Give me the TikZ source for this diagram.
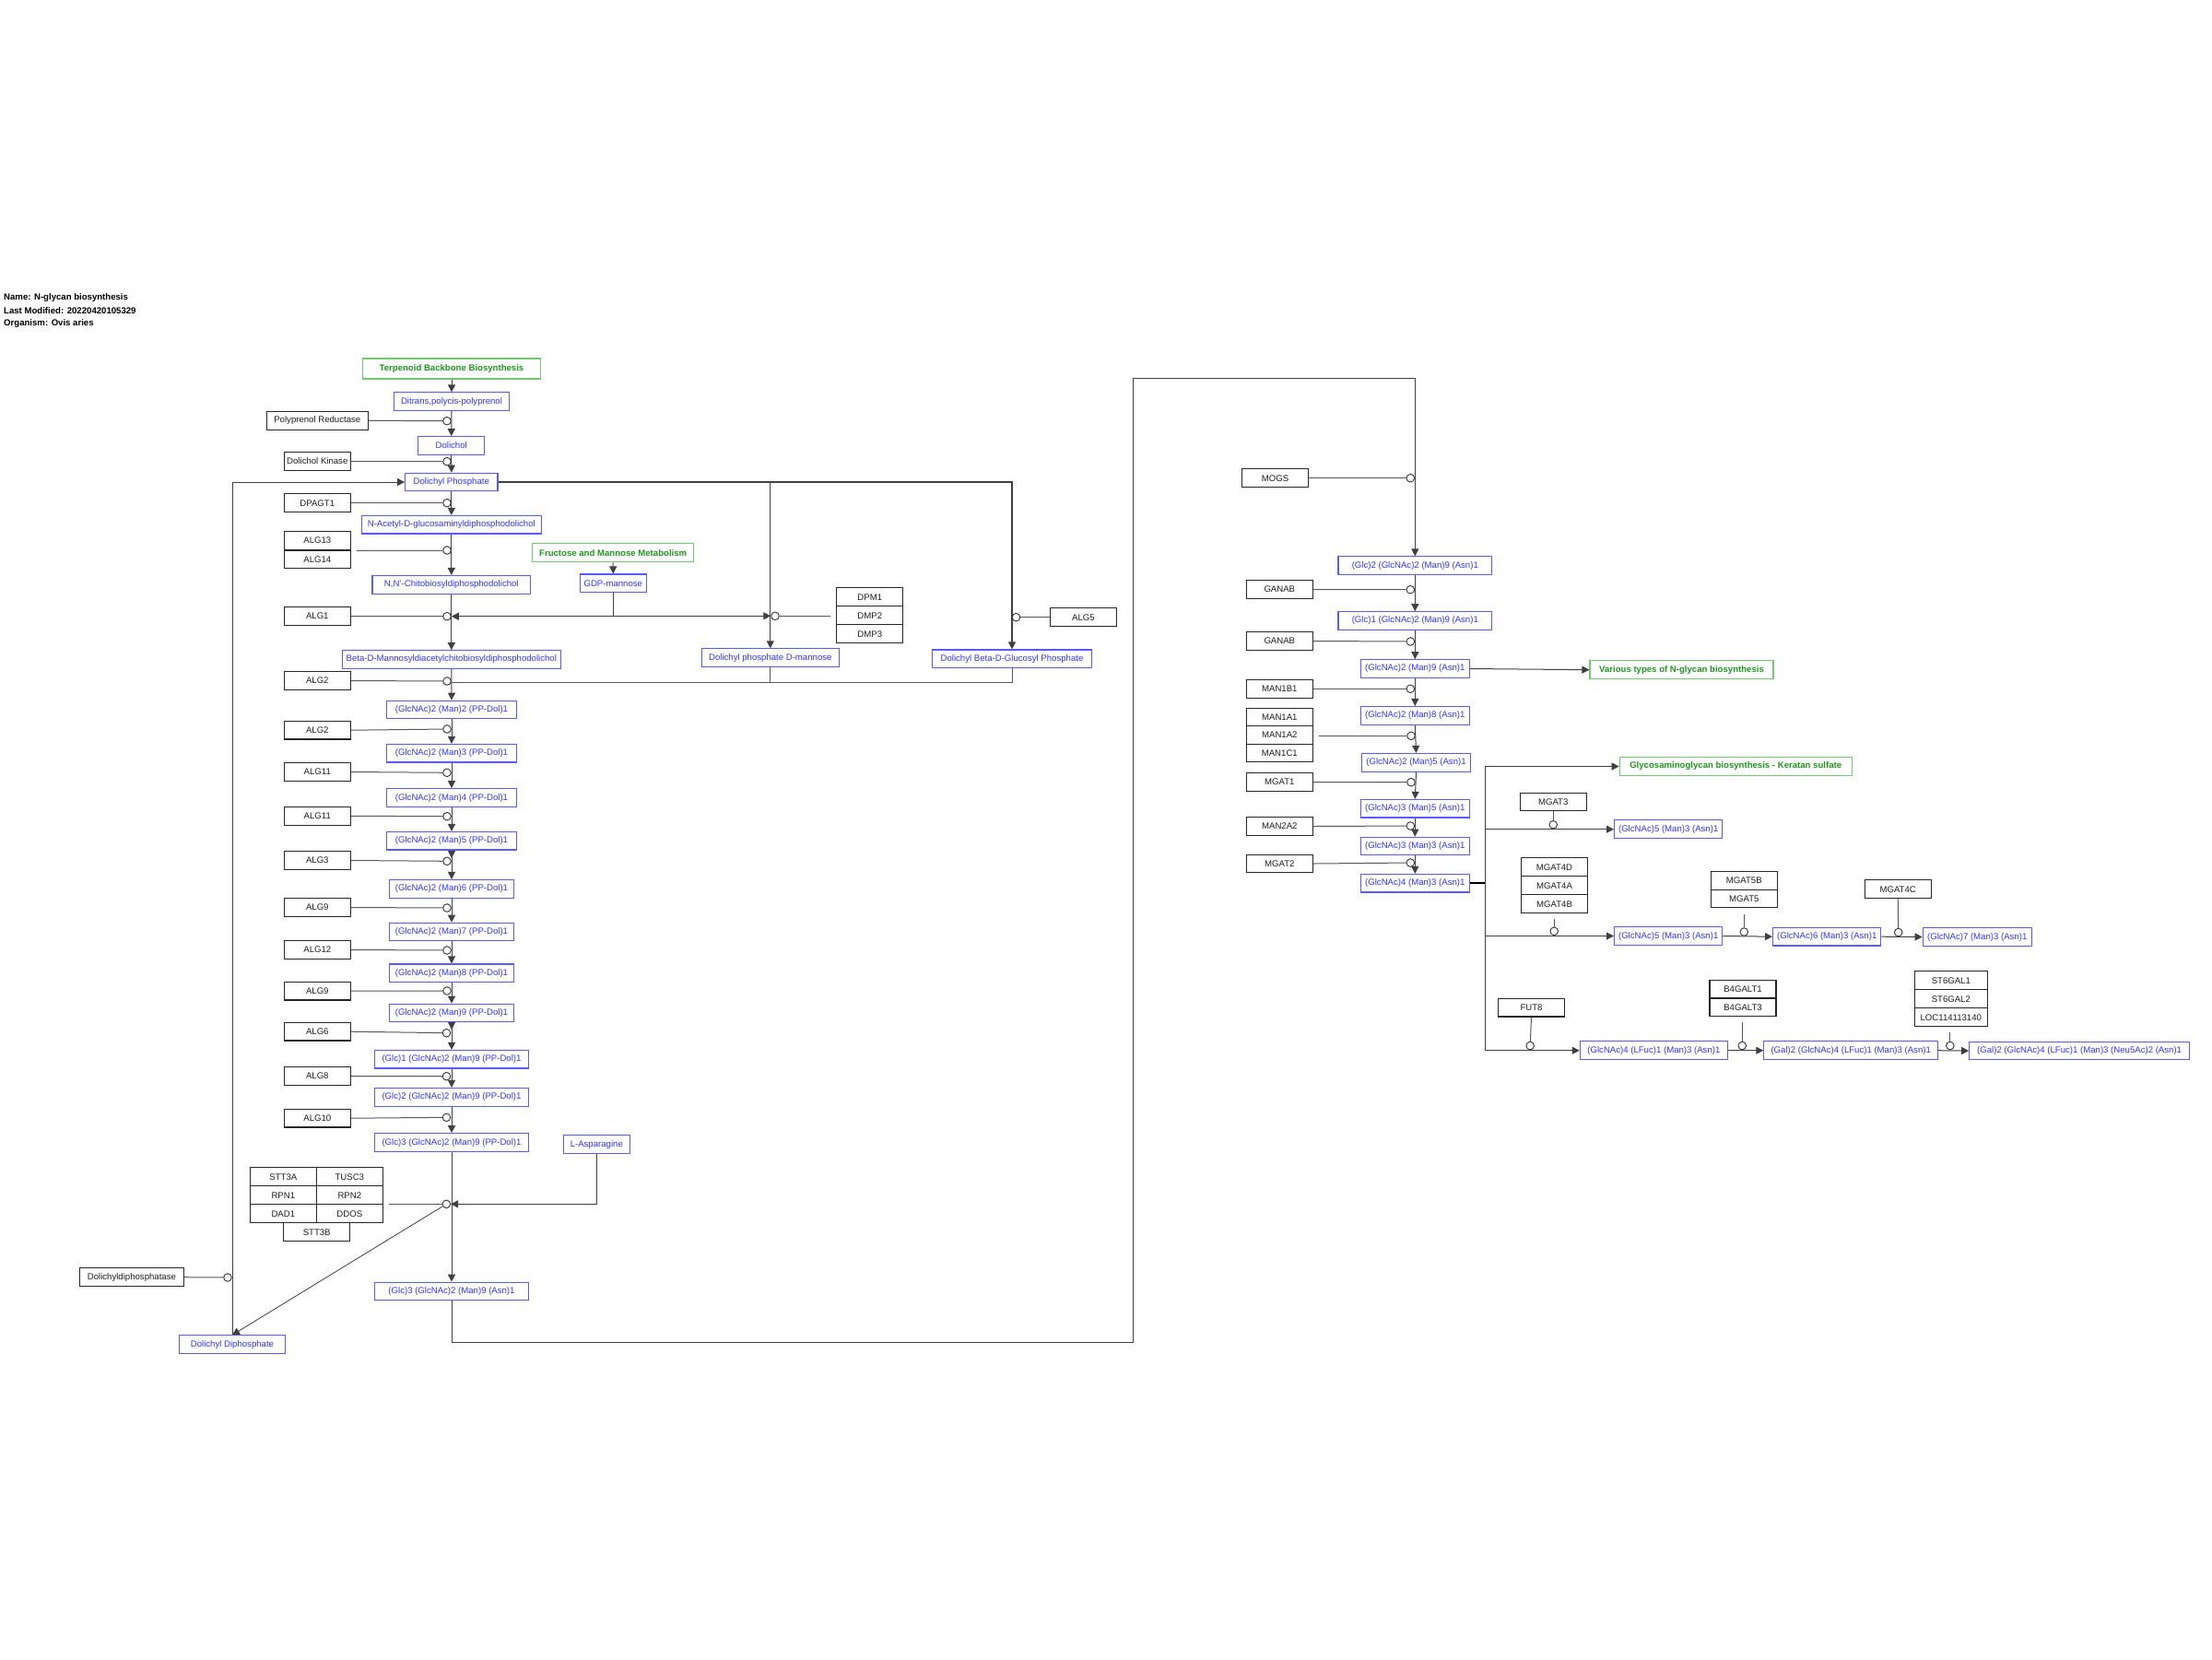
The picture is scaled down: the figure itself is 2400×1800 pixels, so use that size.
\documentclass[tikz,border=0pt]{standalone}
\usepackage{fontspec}
\setmainfont{Liberation Sans}
\usetikzlibrary{arrows.meta}
\pgfdeclarelayer{bg}
\pgfsetlayers{bg,main}
\definecolor{mblue}{RGB}{51,51,255}
\definecolor{mborder}{RGB}{90,90,255}
\definecolor{pgreen}{RGB}{34,150,34}
\definecolor{pborder}{RGB}{115,200,115}
\definecolor{gtext}{RGB}{30,30,30}
\begin{document}
\begin{tikzpicture}[x=1pt,y=-1pt,
  every node/.style={font=\fontsize{9.6}{11}\selectfont},
  gene/.style={draw=black!85, line width=1.1pt, fill=white, text=gtext, inner sep=0pt, minimum width=72pt, minimum height=19.6pt},
  metab/.style={draw=mborder, line width=1.1pt, fill=white, text=mblue, inner sep=0pt, minimum width=#1, minimum height=19.6pt},
  metab/.default=72pt,
  pway/.style={draw=pborder, line width=1.1pt, fill=white, text=pgreen, inner sep=0pt, minimum width=#1, minimum height=19.8pt, font=\fontsize{9.6}{11}\selectfont\bfseries},
  pway/.default=175pt,
  cat/.style={circle, draw=black!80, line width=0.9pt, fill=white, minimum size=8.6pt, inner sep=0pt},
  conv/.style={draw=black!75, line width=1pt, -{Triangle[length=8pt,width=8pt]}},
  cl/.style={draw=black!65, line width=1pt},
  hdr/.style={anchor=west, inner sep=0pt, font=\fontsize{9.6}{11}\selectfont\bfseries}
]
\useasboundingbox (0,0) rectangle (2400,1800);

% header
\node[hdr] (h1) at (4,323) {Name: N-glycan biosynthesis};
\node[hdr] (h2) at (4,337) {Last Modified: 20220420105329};
\node[hdr] (h3) at (4,351) {Organism: Ovis aries};

% ---------- left column ----------
\node[pway=193pt, minimum height=22pt] (p_terp) at (490,400) {Terpenoid Backbone Biosynthesis};
\node[metab=125pt] (m_ditrans) at (490,435.7) {Ditrans,polycis-polyprenol};
\node[gene, minimum width=110pt] (g_polyred) at (344.3,456.3) {Polyprenol Reductase};
\node[cat] (c1) at (485,456.7) {};
\node[metab=72pt] (m_dolichol) at (489.7,483.5) {Dolichol};
\node[gene] (g_dolk) at (344.3,500.5) {Dolichol Kinase};
\node[cat] (c2) at (485,500.7) {};
\node[metab=100.3pt] (m_dolp) at (489.8,523) {Dolichyl Phosphate};
\node[gene] (g_dpagt1) at (344.3,545.7) {DPAGT1};
\node[cat] (c3) at (485,545.7) {};
\node[metab=195pt] (m_nacetyl) at (489.8,569.2) {N-Acetyl-D-glucosaminyldiphosphodolichol};
\node[gene] (g_alg13) at (344.3,586.5) {ALG13};
\node[gene] (g_alg14) at (344.3,607) {ALG14};
\coordinate (j_alg1314) at (387,597);
\node[cat] (c4) at (485,597) {};
\node[pway=175pt] (p_fruc) at (665.2,599.8) {Fructose and Mannose Metabolism};
\node[metab=72pt] (m_gdp) at (665.3,632.8) {GDP-mannose};
\node[metab=171.7pt] (m_chito) at (489.8,634.3) {N,N'-Chitobiosyldiphosphodolichol};
\node[gene] (g_alg1) at (344.3,668.5) {ALG1};
\node[cat] (c5) at (485,668.7) {};
\node[metab=237pt] (m_beta) at (489.8,715.5) {Beta-D-Mannosyldiacetylchitobiosyldiphosphodolichol};
\node[gene] (g_alg2a) at (344.3,738.5) {ALG2};
\node[cat] (c6) at (485,739) {};
\coordinate (j_ret) at (490,740.5);
\node[metab=141.3pt] (m_man2) at (490,770) {(GlcNAc)2 (Man)2 (PP-Dol)1};
\node[gene] (g_alg2b) at (344.3,792.2) {ALG2};
\node[cat] (c7) at (485,791) {};
\node[metab=141.3pt] (m_man3) at (490,817.2) {(GlcNAc)2 (Man)3 (PP-Dol)1};
\node[gene] (g_alg11a) at (344.3,837.5) {ALG11};
\node[cat] (c8) at (485,838.3) {};
\node[metab=141.3pt] (m_man4) at (490,865.5) {(GlcNAc)2 (Man)4 (PP-Dol)1};
\node[gene] (g_alg11b) at (344.3,885.3) {ALG11};
\node[cat] (c9) at (485,885.7) {};
\node[metab=141.3pt] (m_man5) at (490,912.2) {(GlcNAc)2 (Man)5 (PP-Dol)1};
\coordinate (j_alg3a) at (490,931);
\node[gene] (g_alg3) at (344.3,933.5) {ALG3};
\node[cat] (c10) at (485,934.3) {};
\node[metab=134.7pt] (m_man6) at (490,964.3) {(GlcNAc)2 (Man)6 (PP-Dol)1};
\node[gene] (g_alg9a) at (344.3,984.5) {ALG9};
\node[cat] (c11) at (485,985) {};
\node[metab=134.7pt] (m_man7) at (490,1011) {(GlcNAc)2 (Man)7 (PP-Dol)1};
\node[gene] (g_alg12) at (344.3,1030.5) {ALG12};
\node[cat] (c12) at (485,1031) {};
\node[metab=134.7pt] (m_man8) at (490,1055.8) {(GlcNAc)2 (Man)8 (PP-Dol)1};
\node[gene] (g_alg9b) at (344.3,1075.2) {ALG9};
\node[cat] (c13) at (485,1075) {};
\node[metab=134.7pt] (m_man9) at (490,1099) {(GlcNAc)2 (Man)9 (PP-Dol)1};
\coordinate (j_alg6a) at (490,1117);
\node[gene] (g_alg6) at (344.3,1119.2) {ALG6};
\node[cat] (c14) at (484.5,1120.7) {};
\node[metab=167pt] (m_glc1) at (490,1149.2) {(Glc)1 (GlcNAc)2 (Man)9 (PP-Dol)1};
\node[gene] (g_alg8) at (344.3,1167.5) {ALG8};
\node[cat] (c15) at (484.5,1167.7) {};
\node[metab=167pt] (m_glc2) at (490,1190.3) {(Glc)2 (GlcNAc)2 (Man)9 (PP-Dol)1};
\node[gene] (g_alg10) at (344.3,1213.2) {ALG10};
\node[cat] (c16) at (484.5,1212.3) {};
\node[metab=167pt] (m_glc3pp) at (490,1239.5) {(Glc)3 (GlcNAc)2 (Man)9 (PP-Dol)1};
\node[metab=72pt] (m_lasn) at (647.3,1241.7) {L-Asparagine};
% OST complex
\node[gene, minimum height=20pt] (g_stt3a) at (307.3,1276.8) {STT3A};
\node[gene, minimum height=20pt] (g_tusc3) at (379.3,1276.8) {TUSC3};
\node[gene, minimum height=20pt] (g_rpn1) at (307.3,1296.7) {RPN1};
\node[gene, minimum height=20pt] (g_rpn2) at (379.3,1296.7) {RPN2};
\node[gene, minimum height=20pt] (g_dad1) at (307.3,1316.7) {DAD1};
\node[gene, minimum height=20pt] (g_ddos) at (379.3,1316.7) {DDOS};
\node[gene, minimum height=20pt] (g_stt3b) at (343.7,1336.8) {STT3B};
\coordinate (j_ost) at (422.4,1306.3);
\node[cat] (c17) at (484.3,1306.3) {};
\node[metab=167pt] (m_glc3asn) at (490,1401) {(Glc)3 (GlcNAc)2 (Man)9 (Asn)1};
\node[metab=115.3pt] (m_doldp) at (252,1458.7) {Dolichyl Diphosphate};
\node[gene, minimum width=112.8pt] (g_dolpase) at (142.9,1385.7) {Dolichyldiphosphatase};
\node[cat] (c18) at (247,1386) {};
\coordinate (j_dp) at (835.8,523);
\coordinate (j_b2) at (1229,1456.7);
\coordinate (j_b4) at (1535.3,410);

% ---------- middle ----------
\node[metab=149.2pt] (m_dolpman) at (835.8,713.7) {Dolichyl phosphate D-mannose};
\node[cat] (c_dpm) at (841,668.3) {};
\node[gene, minimum height=20pt] (g_dpm1) at (943.8,647.7) {DPM1};
\node[gene, minimum height=20pt] (g_dmp2) at (943.8,667.7) {DMP2};
\node[gene, minimum height=20pt] (g_dmp3) at (943.8,687.7) {DMP3};
\coordinate (j_dpm) at (901.3,668.3);
\node[metab=173pt] (m_dolglc) at (1098,714.8) {Dolichyl Beta-D-Glucosyl Phosphate};
\node[cat] (c_alg5) at (1102.5,669.7) {};
\node[gene, minimum width=71.5pt, minimum height=20pt] (g_alg5) at (1175.5,669.7) {ALG5};

% ---------- right column ----------
\node[gene] (g_mogs) at (1383.5,518.7) {MOGS};
\node[cat] (c_mogs) at (1530.3,518.7) {};
\node[metab=166.7pt] (m_r1) at (1535.3,613.7) {(Glc)2 (GlcNAc)2 (Man)9 (Asn)1};
\node[gene] (g_ganab1) at (1388.3,639.5) {GANAB};
\node[cat] (c_ganab1) at (1530.3,639.7) {};
\node[metab=166.7pt] (m_r2) at (1535.3,673.5) {(Glc)1 (GlcNAc)2 (Man)9 (Asn)1};
\node[gene] (g_ganab2) at (1388.3,695.5) {GANAB};
\node[cat] (c_ganab2) at (1530.3,696) {};
\node[metab=118pt] (m_r3) at (1535.3,725.5) {(GlcNAc)2 (Man)9 (Asn)1};
\node[pway=199pt, minimum height=20pt] (p_various) at (1824.5,726.7) {Various types of N-glycan biosynthesis};
\node[gene] (g_man1b1) at (1388.3,747.3) {MAN1B1};
\node[cat] (c_man1b1) at (1530.3,747.3) {};
\node[metab=118pt] (m_r4) at (1535.3,776.3) {(GlcNAc)2 (Man)8 (Asn)1};
\node[gene, minimum height=19.3pt] (g_man1a1) at (1388.3,778.2) {MAN1A1};
\node[gene, minimum height=19.3pt] (g_man1a2) at (1388.3,797.5) {MAN1A2};
\node[gene, minimum height=19.3pt] (g_man1c1) at (1388.3,816.8) {MAN1C1};
\coordinate (j_man1a) at (1431,798.3);
\node[cat] (c_man1a) at (1531,798.3) {};
\node[metab=118.3pt] (m_r5) at (1536.5,827.3) {(GlcNAc)2 (Man)5 (Asn)1};
\node[gene] (g_mgat1) at (1388.3,848.5) {MGAT1};
\node[cat] (c_mgat1) at (1531,848.7) {};
\node[metab=118pt] (m_r6) at (1535.3,877.2) {(GlcNAc)3 (Man)5 (Asn)1};
\node[gene] (g_man2a2) at (1388.3,896.5) {MAN2A2};
\node[cat] (c_man2a2) at (1530.3,896) {};
\node[metab=118pt] (m_r7) at (1535.3,918) {(GlcNAc)3 (Man)3 (Asn)1};
\node[gene] (g_mgat2) at (1388.3,937) {MGAT2};
\node[cat] (c_mgat2) at (1530.3,936) {};
\node[metab=118pt] (m_r8) at (1535.3,958.2) {(GlcNAc)4 (Man)3 (Asn)1};
\coordinate (j_br) at (1611,958.2);

% branches
\node[pway=252pt] (p_gag) at (1883.2,831.5) {Glycosaminoglycan biosynthesis - Keratan sulfate};
\node[gene] (g_mgat3) at (1685.2,870) {MGAT3};
\node[cat] (c_mgat3) at (1685.2,894.7) {};
\node[metab=117.3pt] (m_r9) at (1810.2,899.7) {(GlcNAc)5 (Man)3 (Asn)1};
\node[gene, minimum height=20pt] (g_mgat4d) at (1686.5,940.7) {MGAT4D};
\node[gene, minimum height=20pt] (g_mgat4a) at (1686.5,960.7) {MGAT4A};
\node[gene, minimum height=20pt] (g_mgat4b) at (1686.5,980.7) {MGAT4B};
\coordinate (j_mgat4) at (1686.2,997.3);
\node[cat] (c_mgat4) at (1686.2,1010.3) {};
\node[metab=117.3pt] (m_r10) at (1810.2,1015.5) {(GlcNAc)5 (Man)3 (Asn)1};
\node[gene] (g_mgat5b) at (1892.3,955.3) {MGAT5B};
\node[gene] (g_mgat5) at (1892.3,975) {MGAT5};
\coordinate (j_mgat5) at (1892.3,992.3);
\node[cat] (c_mgat5) at (1892.3,1011) {};
\node[metab=117.3pt] (m_r11) at (1982.2,1016.2) {(GlcNAc)6 (Man)3 (Asn)1};
\node[gene] (g_mgat4c) at (2059.2,964.7) {MGAT4C};
\node[cat] (c_mgat4c) at (2059.7,1011.5) {};
\node[metab=118pt] (m_r12) at (2145.2,1016.5) {(GlcNAc)7 (Man)3 (Asn)1};
\node[gene] (g_fut8) at (1661.5,1093.2) {FUT8};
\node[cat] (c_fut8) at (1660.2,1134.5) {};
\node[metab=160.2pt] (m_r13) at (1794.4,1139.7) {(GlcNAc)4 (LFuc)1 (Man)3 (Asn)1};
\node[gene] (g_b4galt1) at (1891,1073.2) {B4GALT1};
\node[gene] (g_b4galt3) at (1891,1092.9) {B4GALT3};
\coordinate (j_b4galt) at (1890.3,1109.3);
\node[cat] (c_b4galt) at (1890.3,1134.5) {};
\node[metab=188.8pt] (m_r14) at (2008.2,1139.7) {(Gal)2 (GlcNAc)4 (LFuc)1 (Man)3 (Asn)1};
\node[gene, minimum width=78.5pt, minimum height=20pt] (g_st6gal1) at (2116.8,1063.7) {ST6GAL1};
\node[gene, minimum width=78.5pt, minimum height=20pt] (g_st6gal2) at (2116.8,1083.7) {ST6GAL2};
\node[gene, minimum width=78.5pt, minimum height=20pt] (g_loc) at (2116.8,1103.7) {LOC114113140};
\coordinate (j_st6) at (2115.8,1120);
\node[cat] (c_st6) at (2115.8,1134.5) {};
\node[metab=238.8pt] (m_r15) at (2256.1,1140) {(Gal)2 (GlcNAc)4 (LFuc)1 (Man)3 (Neu5Ac)2 (Asn)1};

\begin{pgfonlayer}{bg}
\fill[white] (0,0) rectangle (2400,1800);
% left main chain
\draw[conv] (p_terp.south) -- (m_ditrans.north);
\draw[conv] (m_ditrans.south) -- (m_dolichol.north);
\draw[conv] (m_dolichol.south) -- (m_dolp.north);
\draw[conv] (m_dolp.south) -- (m_nacetyl.north);
\draw[conv] (m_nacetyl.south) -- (m_chito.north);
\draw[conv] (m_chito.south) -- (m_beta.north);
\draw[conv] (m_beta.south) -- (m_man2.north);
\draw[conv] (m_man2.south) -- (m_man3.north);
\draw[conv] (m_man3.south) -- (m_man4.north);
\draw[conv] (m_man4.south) -- (m_man5.north);
\draw[conv] (m_man5.south) -- (j_alg3a);
\draw[conv] (m_man5.south) -- (m_man6.north);
\draw[conv] (m_man6.south) -- (m_man7.north);
\draw[conv] (m_man7.south) -- (m_man8.north);
\draw[conv] (m_man8.south) -- (m_man9.north);
\draw[conv] (m_man9.south) -- (j_alg6a);
\draw[conv] (m_man9.south) -- (m_glc1.north);
\draw[conv] (m_glc1.south) -- (m_glc2.north);
\draw[conv] (m_glc2.south) -- (m_glc3pp.north);
\draw[conv] (m_glc3pp.south) -- (m_glc3asn.north);
% catalysis left
\draw[cl] (g_polyred.east) -- (c1);
\draw[cl] (g_dolk.east) -- (c2);
\draw[cl] (g_dpagt1.east) -- (c3);
\draw[cl] (j_alg1314) -- (c4);
\draw[cl] (g_alg1.east) -- (c5);
\draw[cl] (g_alg2a.east) -- (c6);
\draw[cl] (g_alg2b.east) -- (c7);
\draw[cl] (g_alg11a.east) -- (c8);
\draw[cl] (g_alg11b.east) -- (c9);
\draw[cl] (g_alg3.east) -- (c10);
\draw[cl] (g_alg9a.east) -- (c11);
\draw[cl] (g_alg12.east) -- (c12);
\draw[cl] (g_alg9b.east) -- (c13);
\draw[cl] (g_alg6.east) -- (c14);
\draw[cl] (g_alg8.east) -- (c15);
\draw[cl] (g_alg10.east) -- (c16);
\draw[cl] (j_ost) -- (c17);
\draw[cl] (g_dolpase.east) -- (c18);
% GDP-mannose
\draw[conv] (p_fruc.south) -- (m_gdp.north);
\draw[conv] (m_gdp.south) |- (c5.east);
\draw[conv] (m_gdp.south) |- (c_dpm.west);
% L-asparagine and OST
\draw[conv] (m_lasn.south) |- (c17.east);
\draw[conv, line width=0.8pt] (c17) -- (m_doldp.north);
% dolichyl phosphate recycling
\draw[conv] (m_doldp.north) |- (m_dolp.west);
\draw[conv, line width=1.3pt] (m_dolp.east) -| (m_dolglc.north);
\draw[conv] (j_dp) -- (m_dolpman.north);
\draw[cl, line width=1.3pt] (m_dolpman.south) |- (j_ret);
\draw[cl] (m_dolglc.south) |- (j_ret);
\draw[cl] (c_dpm) -- (j_dpm);
\draw[cl] (g_alg5.west) -- (c_alg5);
% long loop to the right
\draw[conv] (m_glc3asn.south) |- (j_b2) |- (j_b4) -- (m_r1.north);
% right chain
\draw[conv] (m_r1.south) -- (m_r2.north);
\draw[conv] (m_r2.south) -- (m_r3.north);
\draw[conv] (m_r3.south) -- (m_r4.north);
\draw[conv] (m_r4.south) -- (m_r5.north);
\draw[conv] (m_r5.south) -- (m_r6.north);
\draw[conv] (m_r6.south) -- (m_r7.north);
\draw[conv] (m_r7.south) -- (m_r8.north);
\draw[conv] (m_r3.east) -- (p_various.west);
\draw[cl] (g_mogs.east) -- (c_mogs);
\draw[cl] (g_ganab1.east) -- (c_ganab1);
\draw[cl] (g_ganab2.east) -- (c_ganab2);
\draw[cl] (g_man1b1.east) -- (c_man1b1);
\draw[cl] (j_man1a) -- (c_man1a);
\draw[cl] (g_mgat1.east) -- (c_mgat1);
\draw[cl] (g_man2a2.east) -- (c_man2a2);
\draw[cl] (g_mgat2.east) -- (c_mgat2);
% branching
\draw[draw=black, line width=2pt] (m_r8.east) -- (j_br);
\draw[conv] (j_br) |- (p_gag.west);
\draw[conv] (j_br) |- (m_r9.west);
\draw[conv] (j_br) |- (m_r10.west);
\draw[conv] (j_br) |- (m_r13.west);
\draw[conv] (m_r10.east) -- (m_r11.west);
\draw[conv] (m_r11.east) -- (m_r12.west);
\draw[conv] (m_r13.east) -- (m_r14.west);
\draw[conv] (m_r14.east) -- (m_r15.west);
\draw[cl] (g_mgat3.south) -- (c_mgat3);
\draw[cl] (j_mgat4) -- (c_mgat4);
\draw[cl] (j_mgat5) -- (c_mgat5);
\draw[cl] (g_mgat4c.south) -- (c_mgat4c);
\draw[cl] (g_fut8.south) -- (c_fut8);
\draw[cl] (j_b4galt) -- (c_b4galt);
\draw[cl] (j_st6) -- (c_st6);
\end{pgfonlayer}
\end{tikzpicture}
\end{document}
